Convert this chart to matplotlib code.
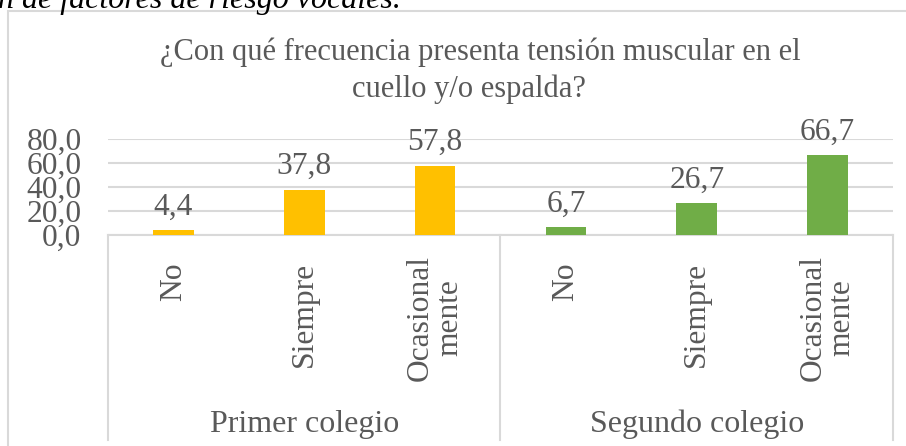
import matplotlib.pyplot as plt
import matplotlib.transforms as mtransforms
from matplotlib.patches import Rectangle

# data
groups = ["Primer colegio", "Segundo colegio"]
categories = ["No", "Siempre", "Ocasional\nmente"]
primer = [4.4, 37.8, 57.8]
segundo = [6.7, 26.7, 66.7]
yticks = [0, 20, 40, 60, 80]
title_lines = ["¿Con qué frecuencia presenta tensión muscular en el",
               "cuello y/o espalda?"]

YELLOW = "#FFC000"
GREEN = "#70AD47"
GRAY = "#595959"
LINE = "#D9D9D9"
FS = 22.7

plt.rcParams["font.family"] = ["Liberation Serif", "DejaVu Serif"]

W, H = 906, 446
fig = plt.figure(figsize=(W / 100, H / 100), dpi=100)


def fx(px):
    return px / W


def fy(py):
    return 1 - py / H


# chart frame (right/bottom sides fall outside the picture)
fig.patches.append(Rectangle((fx(8), fy(460)), fx(910) - fx(8), fy(11) - fy(460),
                             transform=fig.transFigure, fill=False,
                             edgecolor=LINE, lw=1.5, zorder=0))

# cut-off caption above the chart
fig.text(fx(-2), fy(8), "n de factores de riesgo vocales.", fontsize=23,
         style="italic", color="black", ha="left", va="baseline")

ax = fig.add_axes([fx(108), fy(235), fx(893) - fx(108), fy(139) - fy(235)])

xs = list(range(6))
values = primer + segundo
colors = [YELLOW] * 3 + [GREEN] * 3
bars = ax.bar(xs, values, width=0.31, color=colors, zorder=3)

for bar, v in zip(bars, values):
    ax.annotate(f"{v:.1f}".replace(".", ","),
                (bar.get_x() + bar.get_width() / 2, v),
                xytext=(0, 6), textcoords="offset points",
                ha="center", va="bottom", fontsize=FS, color=GRAY)

ax.set_xlim(-0.5, 5.5)
ax.set_ylim(0, 80)
ax.set_yticks(yticks)
ax.set_yticklabels([f"{t:.1f}".replace(".", ",") for t in yticks],
                   fontsize=FS, color=GRAY)
ax.tick_params(axis="y", length=0, pad=19)
ax.tick_params(axis="x", length=0, labelbottom=False)
ax.grid(axis="y", color=LINE, lw=1.5, zorder=0)
for s in ["top", "right", "left"]:
    ax.spines[s].set_visible(False)
ax.spines["bottom"].set_color(LINE)
ax.spines["bottom"].set_linewidth(1.5)

# multi-level category axis
trans = mtransforms.blended_transform_factory(ax.transData, fig.transFigure)
for x in [-0.5, 2.5, 5.5]:
    ax.plot([x, x], [fy(235), fy(440)], transform=trans, color=LINE,
            lw=1.5, clip_on=False)

for i, x in enumerate(xs):
    label = categories[i % 3]
    top = 255 if "\n" in label else 262
    ax.text(x, fy(top), label, transform=trans, rotation=90,
            ha="center", va="top", multialignment="center",
            fontsize=FS, color=GRAY, linespacing=1.0)

for g, name in enumerate(groups):
    ax.text(g * 3 + 1, fy(432), name, transform=trans, ha="center",
            va="baseline", fontsize=23, color=GRAY)

fig.text(fx(480), fy(60), title_lines[0], ha="center", va="baseline",
         fontsize=22, color=GRAY)
fig.text(fx(469), fy(97), title_lines[1], ha="center", va="baseline",
         fontsize=22, color=GRAY)

fig.savefig("out.png", dpi=100)
